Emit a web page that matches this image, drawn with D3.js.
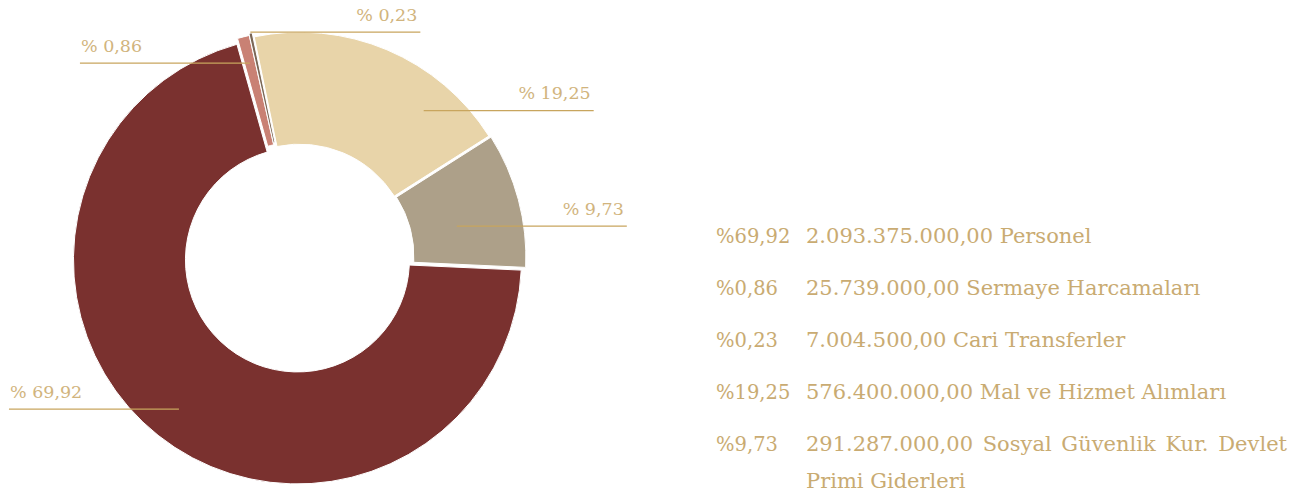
<!DOCTYPE html>
<html>
<head>
<meta charset="utf-8">
<script src="https://cdn.jsdelivr.net/npm/d3@7"></script>
<style>
  body { margin: 0; background: #fff; }
  svg { display: block; }
  text { font-family: "DejaVu Serif", serif; }
</style>
</head>
<body>
<script>
// harcama kalemleri (legend order = pie order)
const categories = ['Personel', 'Sermaye Harcamaları', 'Cari Transferler', 'Mal ve Hizmet Alımları', 'Sosyal Güvenlik Kur. Devlet Primi Giderleri']
const amounts = [2093375000, 25739000, 7004500, 576400000, 291287000]
const sliceColors = ['#7a312f', '#c98174', '#7b6756', '#e8d4a9', '#ada089']

// layout
const W = 1297, H = 494
const cx = 299, cy = 258
const outerR = 224, innerR = 112
const startDeg = 92.6
const explode = [2.5, 4, 6, 2, 3]
// label leader lines: position along slice (0..1), radius, direction
const labelPos = [
  { t: 0.5, r: 193, dir: -1 },
  { t: 0.5, r: 201, dir: -1 },
  { t: 0.5, r: 231, dir: 1 },
  { t: 0.75, r: 193, dir: 1 },
  { t: 0.6, r: 161, dir: 1 }
]
const lineLen = 170
const gold = '#c8a55e'
const textGold = '#d1b47d'

const trLocale = d3.formatLocale({ decimal: ',', thousands: '.', grouping: [3], currency: ['', ''] })
const fmtAmount = trLocale.format(',.2f')
const fmtPct = trLocale.format('.2f')

const total = d3.sum(amounts)
const pct = amounts.map(v => v / total * 100)

const svg = d3.select('body').append('svg')
  .attr('width', W)
  .attr('height', H)

const a0 = startDeg * Math.PI / 180
const pie = d3.pie().sort(null).value(d => d).startAngle(a0).endAngle(a0 + 2 * Math.PI)
const arcs = pie(amounts)

const arc = d3.arc().innerRadius(innerR).outerRadius(outerR)

const g = svg.append('g').attr('transform', `translate(${cx},${cy})`)

g.selectAll('path')
  .data(arcs)
  .enter()
  .append('path')
  .attr('d', arc)
  .attr('transform', (d, i) => {
    const m = (d.startAngle + d.endAngle) / 2
    return `translate(${Math.sin(m) * explode[i]},${-Math.cos(m) * explode[i]})`
  })
  .attr('fill', (d, i) => sliceColors[i])
  .attr('stroke', '#fff')
  .attr('stroke-width', 1)

// leader lines + percent labels
arcs.forEach((d, i) => {
  const lp = labelPos[i]
  const ang = d.startAngle + (d.endAngle - d.startAngle) * lp.t
  const x0 = cx + Math.sin(ang) * lp.r
  const y0 = cy - Math.cos(ang) * lp.r
  const x1 = x0 + lp.dir * lineLen
  svg.append('line')
    .attr('x1', x0).attr('y1', y0)
    .attr('x2', x1).attr('y2', y0)
    .attr('stroke', gold)
    .attr('stroke-width', 1.3)
  svg.append('text')
    .attr('x', lp.dir < 0 ? x1 + 1 : x1 - 3)
    .attr('y', y0 - 11.5)
    .attr('text-anchor', lp.dir < 0 ? 'start' : 'end')
    .attr('font-size', 17.5)
    .attr('fill', textGold)
    .text('% ' + fmtPct(pct[i]))
})

// legend
const legX = 716, legTextX = 806, legY = 243, legStep = 52, legRight = 1287
const leg = svg.append('g').attr('fill', '#c9ab72')

categories.forEach((c, i) => {
  const y = legY + i * legStep
  leg.append('text').attr('x', legX).attr('y', y).attr('font-size', 19.5).text('%' + fmtPct(pct[i]))
  const full = fmtAmount(amounts[i]) + ' ' + c
  if (i < categories.length - 1) {
    leg.append('text').attr('x', legTextX).attr('y', y).attr('font-size', 21).text(full)
  } else {
    // justified first line, rest wraps
    const words = full.split(' ')
    const first = words.slice(0, 5)
    const rest = words.slice(5).join(' ')
    const widths = first.map(w => {
      const t = leg.append('text').attr('font-size', 21).attr('x', 0).attr('y', -100).text(w)
      const wd = t.node().getComputedTextLength()
      t.remove()
      return wd
    })
    const gap = (legRight - legTextX - d3.sum(widths)) / (first.length - 1)
    let x = legTextX
    first.forEach((w, k) => {
      leg.append('text').attr('x', x).attr('y', y).attr('font-size', 21).text(w)
      x += widths[k] + gap
    })
    leg.append('text').attr('x', legTextX).attr('y', y + 37).attr('font-size', 21).text(rest)
  }
})
</script>
</body>
</html>
